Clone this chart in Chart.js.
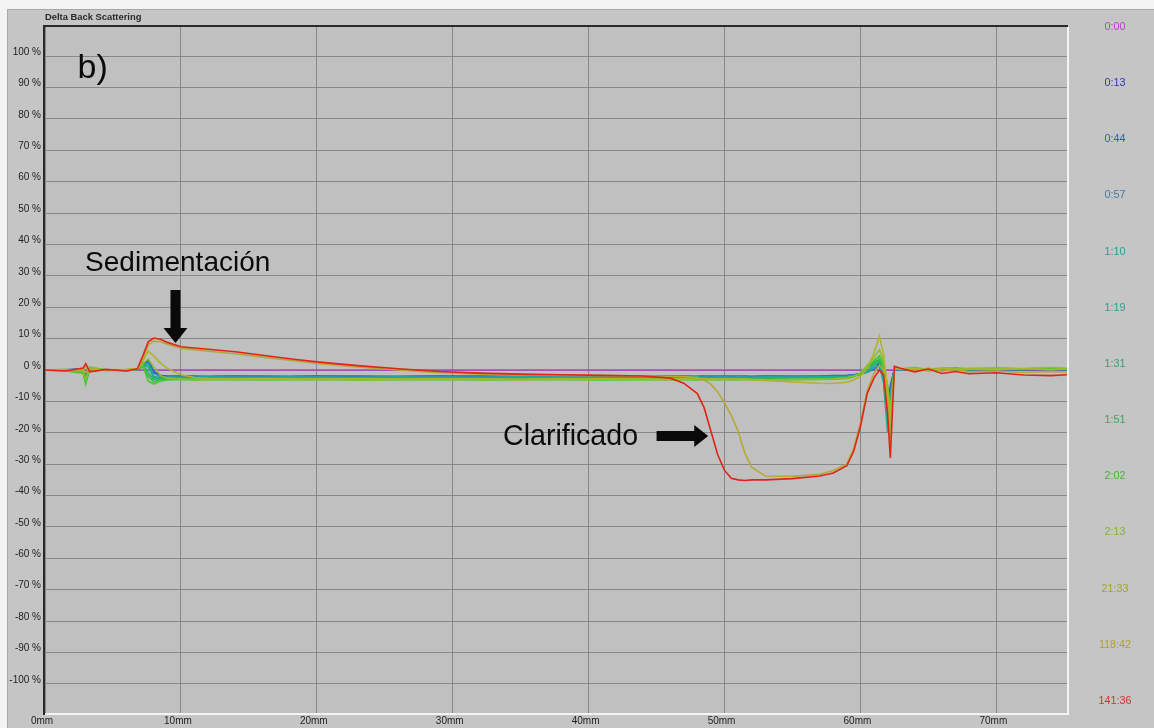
<!DOCTYPE html>
<html lang="es">
<head>
<meta charset="UTF-8">
<title>Delta Back Scattering</title>
<script src="https://cdn.jsdelivr.net/npm/chart.js@4.4.1/dist/chart.umd.min.js"></script>
<style>
  html, body { margin: 0; padding: 0; background: #f3f3f3; }
  #wrap { width: 1154px; height: 728px; }
</style>
</head>
<body>
<div id="wrap"><canvas id="dbs" width="1154" height="728"></canvas></div>
<script>
// position along the tube (mm)
var positionsMm = [0, 1.5, 2.8, 3.0, 3.3, 4.5, 6, 6.8, 7.2, 7.6,
  8, 8.5, 9, 10, 11, 12, 14, 16, 18, 20,
  23, 26, 29, 32, 35, 38, 41, 44, 46, 47,
  48, 48.5, 49, 49.5, 50, 50.5, 51, 51.5, 52, 53,
  55, 57, 58, 59, 59.5, 60, 60.5, 61, 61.4, 61.7,
  62.0, 62.2, 62.5, 63, 64, 65, 66, 67, 68, 70,
  72, 74, 75.2];

var xTickValues = [0, 10, 20, 30, 40, 50, 60, 70];
var yTickValues = [-100, -90, -80, -70, -60, -50, -40, -30, -20, -10, 0, 10, 20, 30, 40, 50, 60, 70, 80, 90, 100];

// scan times (h:mm) and their colours
var scanLabels = ['0:00', '0:13', '0:44', '0:57', '1:10', '1:19', '1:31', '1:51', '2:02', '2:13', '21:33', '118:42', '141:36'];
var labelColors = ['#b048c0', '#3434b0', '#3060b4', '#4a7aa4', '#2f9898', '#30a088', '#36a070', '#38a85c', '#4cb03c', '#84b038', '#9aa828', '#b0a030', '#d43030'];
var lineColors = ['#b040c8', '#2030c8', '#2a58d0', '#3c80b8', '#20a8a0', '#20b088', '#28b468', '#30bc48', '#48c828', '#88c030', '#b0b428', '#b4a838', '#e02418'];

// delta back scattering (%), one list per scan
var bs0000 = [0, 0, 0, 0, 0, 0, 0, 0, 0, 0,
  0, 0, 0, 0, 0, 0, 0, 0, 0, 0,
  0, 0, 0, 0, 0, 0, 0, 0, 0, 0,
  0, 0, 0, 0, 0, 0, 0, 0, 0, 0,
  0, 0, 0, 0, 0, 0, 0, 0, 0, 0,
  0, 0, 0, 0, 0, 0, 0, 0, 0, 0,
  0, 0, 0];
var bs0013 = [0, 0.1, 0.3, -1.0, 0.2, 0.0, 0.1, 0.2, 1.5, 3.0,
  -0.5, -1.8, -2.0, -2.1, -2.0, -2.2, -2.1, -2.0, -2.2, -2.1,
  -2.0, -2.2, -2.1, -2.0, -2.2, -2.1, -2.0, -2.2, -2.1, -2.0,
  -2.1, -2.2, -2.0, -2.1, -2.2, -2.0, -2.1, -2.2, -2.1, -2.0,
  -2.1, -2.2, -2.0, -1.9, -1.6, -1.2, -0.5, 0.5, 2.0, -3.0,
  -14.0, -6.0, 0.3, 0.1, 0.2, 0.0, 0.3, 0.1, 0.2, 0.4,
  0.1, 0.3, 0.2];
var bs0044 = [0, 0.1, 0.2, -1.2, 0.1, 0.0, 0.0, 0.2, 1.2, 2.8,
  -0.8, -1.9, -2.0, -1.9, -2.1, -2.0, -1.9, -2.1, -2.0, -1.9,
  -2.1, -2.0, -1.9, -2.1, -2.0, -1.9, -2.1, -2.0, -1.9, -2.1,
  -2.0, -1.9, -2.1, -2.0, -1.9, -2.1, -2.0, -1.9, -2.1, -2.0,
  -2.0, -1.9, -1.8, -1.7, -1.5, -1.2, -0.6, 0.3, 1.5, -2.5,
  -12.0, -5.0, 0.2, 0.0, 0.2, 0.1, 0.3, 0.0, 0.2, 0.1,
  0.2, 0.3, 0.1];
var bs0057 = [0, 0.0, 0.2, -1.5, 0.2, 0.0, 0.1, 0.1, 1.5, 2.5,
  -1.0, -2.0, -2.2, -2.1, -2.3, -2.2, -2.1, -2.3, -2.2, -2.1,
  -2.3, -2.2, -2.1, -2.3, -2.2, -2.1, -2.3, -2.2, -2.1, -2.3,
  -2.2, -2.1, -2.3, -2.2, -2.1, -2.3, -2.2, -2.1, -2.3, -2.2,
  -2.2, -2.1, -2.0, -1.9, -1.7, -1.3, -0.7, 0.4, 1.2, -3.0,
  -16.0, -7.0, 0.2, 0.1, 0.3, 0.0, 0.2, 0.3, 0.1, 0.2,
  0.3, 0.1, 0.2];
var bs0110 = [0, 0.1, -0.3, -2.5, 0.3, 0.1, 0.0, 0.2, 1.8, 2.0,
  -2.0, -2.4, -2.3, -2.4, -2.3, -2.2, -2.4, -2.3, -2.2, -2.4,
  -2.3, -2.2, -2.4, -2.3, -2.2, -2.4, -2.3, -2.2, -2.4, -2.3,
  -2.2, -2.4, -2.3, -2.2, -2.4, -2.3, -2.2, -2.4, -2.3, -2.2,
  -2.3, -2.2, -2.1, -2.0, -1.8, -1.4, -0.6, 0.8, 1.5, -4.0,
  -20.0, -8.0, 0.2, 0.3, 0.0, 0.2, 0.4, 0.1, 0.3, 0.2,
  0.2, 0.4, 0.1];
var bs0119 = [0, 0.0, -0.4, -3.0, 0.4, 0.0, 0.1, 0.1, 2.0, 1.0,
  -2.5, -2.6, -2.5, -2.4, -2.5, -2.6, -2.4, -2.5, -2.6, -2.4,
  -2.5, -2.6, -2.4, -2.5, -2.6, -2.4, -2.5, -2.6, -2.4, -2.5,
  -2.6, -2.4, -2.5, -2.6, -2.4, -2.5, -2.6, -2.4, -2.5, -2.6,
  -2.5, -2.4, -2.3, -2.2, -1.9, -1.3, -0.2, 1.5, 2.5, -2.0,
  -16.0, -10.0, 0.3, 0.2, 0.1, 0.4, -0.1, 0.3, 0.2, 0.1,
  0.4, 0.2, 0.3];
var bs0131 = [0, -0.1, -0.6, -3.5, 0.5, 0.1, 0.0, 0.2, 2.5, -1.0,
  -3.0, -2.8, -2.6, -2.6, -2.7, -2.5, -2.6, -2.7, -2.6, -2.5,
  -2.7, -2.6, -2.5, -2.7, -2.6, -2.5, -2.7, -2.6, -2.5, -2.6,
  -2.7, -2.5, -2.6, -2.7, -2.6, -2.5, -2.7, -2.6, -2.5, -2.6,
  -2.6, -2.5, -2.4, -2.3, -1.8, -1.0, 0.8, 2.0, 3.0, -1.0,
  -12.0, -15.0, 0.4, 0.1, 0.5, -0.2, 0.3, 0.4, 0.1, 0.5,
  0.3, 0.2, 0.4];
var bs0151 = [0, 0.1, -0.8, -4.0, 0.6, 0.0, -0.2, 0.3, 1.0, -2.0,
  -3.8, -3.0, -2.8, -2.7, -2.9, -2.8, -2.7, -2.9, -2.8, -2.7,
  -2.9, -2.8, -2.7, -2.9, -2.8, -2.7, -2.9, -2.8, -2.7, -2.9,
  -2.8, -2.7, -2.9, -2.8, -2.7, -2.9, -2.8, -2.7, -2.8, -2.9,
  -2.8, -2.7, -2.6, -2.5, -2.0, -1.2, 0.5, 2.5, 3.5, 1.0,
  -8.0, -18.0, 0.2, 0.4, 0.3, 0.0, 0.4, 0.2, 0.5, 0.3,
  0.2, 0.4, 0.3];
var bs0202 = [0, -0.3, -1.0, -4.5, 1.0, -0.2, 0.1, 0.2, 1.5, -3.5,
  -4.5, -3.5, -3.2, -3.0, -3.2, -3.1, -3.0, -3.2, -3.1, -3.0,
  -3.2, -3.1, -3.0, -3.2, -3.1, -3.0, -3.2, -3.1, -3.0, -3.1,
  -3.2, -3.0, -3.1, -3.2, -3.0, -3.1, -3.2, -3.0, -3.1, -3.2,
  -3.1, -3.0, -2.9, -2.7, -2.2, -1.0, 1.0, 3.0, 4.5, 2.0,
  -5.0, -12.0, 0.5, 0.3, 0.8, 0.1, 0.5, 0.7, 0.3, 0.6,
  0.3, 0.7, 0.5];
var bs0213 = [0, 0.2, -0.5, -3.0, 0.8, 0.1, -0.1, 0.3, 2.0, 3.5,
  1.0, -1.8, -2.6, -2.9, -3.0, -2.9, -3.1, -3.0, -2.9, -3.1,
  -3.0, -3.1, -2.9, -3.0, -3.1, -3.0, -2.9, -3.0, -3.1, -3.0,
  -3.0, -3.1, -2.9, -3.0, -3.0, -3.1, -3.0, -2.9, -3.0, -3.1,
  -3.0, -2.9, -2.8, -2.5, -2.0, -1.0, 1.5, 4.0, 6.5, 3.0,
  -6.0, -14.0, 0.8, 0.5, 0.6, 0.2, 0.7, 0.4, 0.5, 0.6,
  0.5, 0.8, 0.4];
var bs2133 = [0, -0.2, 0.2, -0.8, 0.3, 0.0, 0.2, 0.5, 3.0, 6.0,
  4.5, 2.2, 0.5, -1.5, -2.4, -2.7, -2.8, -2.7, -2.8, -2.9,
  -2.8, -2.9, -2.8, -2.9, -3.0, -2.9, -2.8, -2.9, -2.9, -2.8,
  -2.9, -2.8, -2.9, -2.9, -3.0, -2.9, -3.0, -3.0, -3.1, -3.3,
  -3.8, -4.2, -4.3, -3.9, -3.2, -2.0, 0.5, 5.5, 10.8, 5.0,
  -7.0, -17.0, 0.5, 0.2, 0.4, -0.3, 0.5, 0.0, 0.3, 0.2,
  0.4, 0.1, 0.3];
var bs11842 = [0.1, -0.2, 0.3, 1.0, -0.4, 0.1, -0.2, 0.3, 3.5, 8.0,
  9.2, 9.0, 8.2, 6.9, 6.5, 6.0, 5.2, 4.1, 3.1, 2.1,
  1.0, 0.0, -0.9, -1.3, -1.5, -1.7, -1.8, -1.9, -2.0, -2.1,
  -2.4, -3.2, -4.6, -7.0, -10.5, -14.5, -19.5, -26.5, -31.0, -33.8,
  -33.9, -33.2, -32.0, -30.0, -25.0, -17.0, -6.5, -1.0, 1.5, 0.0,
  -11.0, -22.0, 1.0, 0.3, -0.2, 0.6, -0.4, 0.2, -0.6, -0.3,
  -0.8, -0.5, -0.7];
var bs14136 = [0, -0.3, 0.6, 2.0, -0.6, 0.2, -0.3, 0.4, 4.5, 9.0,
  10.2, 9.8, 8.8, 7.4, 7.0, 6.6, 5.8, 4.7, 3.6, 2.6,
  1.4, 0.4, -0.5, -1.0, -1.3, -1.5, -1.7, -1.9, -2.6, -4.2,
  -7.5, -12.0, -19.5, -27.0, -32.0, -34.5, -35.0, -35.2, -35.0, -35.0,
  -34.6, -33.8, -32.8, -30.5, -26.0, -18.0, -7.5, -2.5, 0.0, -1.5,
  -14.0, -28.0, 1.2, 0.5, -0.6, 0.3, -1.1, -0.5, -1.2, -0.9,
  -1.6, -1.8, -1.5];

var scans = [bs0000, bs0013, bs0044, bs0057, bs0110, bs0119, bs0131, bs0151, bs0202, bs0213, bs2133, bs11842, bs14136];

// text notes placed in data units (mm, %)
var notes = {
  panel: { text: 'b)', x: 2.4, y: 93 },
  sed: { text: 'Sedimentación', x: 2.95, y: 31.6 },
  clar: { text: 'Clarificado', x: 33.7, y: -24 },
  downArrow: { x: 9.6, from: 25.5, to: 8.6 },
  rightArrow: { y: -21.0, from: 45.0, to: 48.8 }
};

var datasets = scans.map(function (vals, i) {
  return {
    label: scanLabels[i],
    data: vals.map(function (v, k) { return { x: positionsMm[k], y: v }; }),
    borderColor: lineColors[i],
    borderWidth: 1.6,
    pointRadius: 0,
    tension: 0,
    fill: false,
    order: scans.length - 1 - i   // latest scan drawn on top
  };
});

var backdrop = {
  id: 'backdrop',
  beforeDraw: function (chart) {
    var c = chart.ctx, a = chart.chartArea;
    c.save();
    c.fillStyle = '#f3f3f3';
    c.fillRect(0, 0, chart.width, chart.height);
    c.fillStyle = '#c5c5c5';
    c.fillRect(7, 9, chart.width - 7, chart.height - 9);
    c.strokeStyle = '#a8a8a8';
    c.lineWidth = 1;
    c.beginPath();
    c.moveTo(7.5, chart.height);
    c.lineTo(7.5, 9.5);
    c.lineTo(chart.width, 9.5);
    c.stroke();
    c.fillStyle = '#c0c0c0';
    c.fillRect(a.left, a.top, a.right - a.left, a.bottom - a.top);
    c.restore();
  },
  beforeDatasetsDraw: function (chart) {
    var c = chart.ctx, a = chart.chartArea;
    c.save();
    c.lineWidth = 2;
    c.strokeStyle = '#f4f4f4';
    c.beginPath();
    c.moveTo(a.left, a.bottom + 1);
    c.lineTo(a.right + 1, a.bottom + 1);
    c.lineTo(a.right + 1, a.top);
    c.stroke();
    c.strokeStyle = '#2a2a2a';
    c.beginPath();
    c.moveTo(a.left - 1, a.bottom + 2);
    c.lineTo(a.left - 1, a.top - 1);
    c.lineTo(a.right + 1, a.top - 1);
    c.stroke();
    c.restore();
  },
  afterDraw: function (chart) {
    var c = chart.ctx, a = chart.chartArea;
    var xs = chart.scales.x, ys = chart.scales.y;
    c.save();
    // panel title
    c.fillStyle = '#2a2a2a';
    c.font = 'bold 9.4px Arial, "Liberation Sans", sans-serif';
    c.textAlign = 'left';
    c.textBaseline = 'middle';
    c.fillText('Delta Back Scattering', a.left, 17);

    // scan-time list on the right
    c.font = '10.8px Arial, "Liberation Sans", sans-serif';
    c.textAlign = 'center';
    var step = (a.bottom - 12 - a.top) / (scanLabels.length - 1);
    scanLabels.forEach(function (lab, i) {
      c.fillStyle = labelColors[i];
      c.fillText(lab, a.right + 48, a.top + i * step);
    });

    // annotations
    c.fillStyle = '#0a0a0a';
    c.textAlign = 'left';
    c.textBaseline = 'alphabetic';
    c.font = '34px "Liberation Sans", Arial, sans-serif';
    c.fillText(notes.panel.text, xs.getPixelForValue(notes.panel.x), ys.getPixelForValue(notes.panel.y));
    c.font = '28px "Liberation Sans", Arial, sans-serif';
    c.fillText(notes.sed.text, xs.getPixelForValue(notes.sed.x), ys.getPixelForValue(notes.sed.y));
    c.font = '28.6px "Liberation Sans", Arial, sans-serif';
    c.fillText(notes.clar.text, xs.getPixelForValue(notes.clar.x), ys.getPixelForValue(notes.clar.y));

    // down arrow
    var ax = xs.getPixelForValue(notes.downArrow.x);
    var ay0 = ys.getPixelForValue(notes.downArrow.from);
    var ay1 = ys.getPixelForValue(notes.downArrow.to);
    c.beginPath();
    c.moveTo(ax - 5, ay0);
    c.lineTo(ax + 5, ay0);
    c.lineTo(ax + 5, ay1 - 15);
    c.lineTo(ax + 12, ay1 - 15);
    c.lineTo(ax, ay1);
    c.lineTo(ax - 12, ay1 - 15);
    c.lineTo(ax - 5, ay1 - 15);
    c.closePath();
    c.fill();

    // right arrow
    var by = ys.getPixelForValue(notes.rightArrow.y);
    var bx0 = xs.getPixelForValue(notes.rightArrow.from);
    var bx1 = xs.getPixelForValue(notes.rightArrow.to);
    c.beginPath();
    c.moveTo(bx0, by - 5);
    c.lineTo(bx1 - 14, by - 5);
    c.lineTo(bx1 - 14, by - 11);
    c.lineTo(bx1, by);
    c.lineTo(bx1 - 14, by + 11);
    c.lineTo(bx1 - 14, by + 5);
    c.lineTo(bx0, by + 5);
    c.closePath();
    c.fill();
    c.restore();
  }
};

new Chart(document.getElementById('dbs'), {
  type: 'line',
  data: { datasets: datasets },
  plugins: [backdrop],
  options: {
    responsive: false,
    animation: false,
    devicePixelRatio: 1,
    layout: { padding: { left: 0, top: 27, right: 87, bottom: 0 } },
    plugins: { legend: { display: false }, tooltip: { enabled: false } },
    scales: {
      x: {
        type: 'linear',
        min: 0,
        max: 75.2,
        afterBuildTicks: function (s) { s.ticks = xTickValues.map(function (v) { return { value: v }; }); },
        afterFit: function (s) { s.height = 15; },
        grid: { color: '#888888', lineWidth: 1, drawTicks: false },
        border: { display: false },
        ticks: {
          callback: function (v) { return v + 'mm'; },
          color: '#222',
          font: { family: 'Arial, "Liberation Sans", sans-serif', size: 10 },
          padding: 2,
          maxRotation: 0,
          autoSkip: false,
          labelOffset: -3
        }
      },
      y: {
        type: 'linear',
        min: -109.3,
        max: 109.3,
        afterBuildTicks: function (s) { s.ticks = yTickValues.map(function (v) { return { value: v }; }); },
        afterFit: function (s) { s.width = 45; },
        grid: { color: '#888888', lineWidth: 1, drawTicks: false },
        border: { display: false },
        ticks: {
          callback: function (v) { return v + ' %'; },
          color: '#222',
          font: { family: 'Arial, "Liberation Sans", sans-serif', size: 10 },
          padding: 4,
          autoSkip: false,
          labelOffset: -4
        }
      }
    }
  }
});
</script>
</body>
</html>
